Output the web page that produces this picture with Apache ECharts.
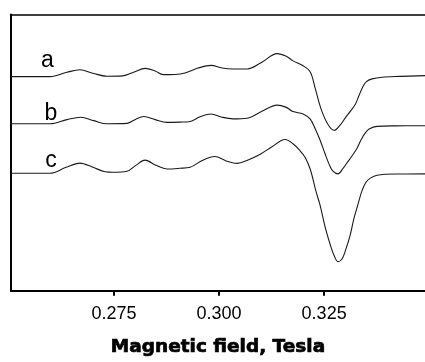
<!DOCTYPE html>
<html>
<head>
<meta charset="utf-8">
<script src="https://cdn.jsdelivr.net/npm/echarts@6/dist/echarts.min.js"></script>
<style>html,body{margin:0;padding:0;background:#fff}#chart{width:425px;height:362px}</style>
</head>
<body>
<div id="chart"></div>
<script>
// Magnetic field (Tesla) and signal (arbitrary units, traces offset as in figure)
var fieldA = [0.2505,0.2598,0.2638,0.2669,0.2700,0.2733,0.2771,0.2798,0.2824,0.2848,0.2867,0.2895,0.2919,0.2950,0.2981,0.3007,0.3033,0.3067,0.3102,0.3138,0.3160,0.3176,0.3200,0.3217,0.3229,0.3243,0.3260,0.3274,0.3288,0.3300,0.3314,0.3324,0.3333,0.3341,0.3350,0.3364,0.3388,0.3431,0.3490];
var signalA = [217.8,217.8,222.2,224.8,221.2,218.2,218.5,222.5,226.2,223.5,219.8,220,221.5,226.5,229.2,226.5,225.5,225.5,232.5,241.2,238.5,233.8,228.8,222.5,205.5,184.5,168.5,163.2,168.5,175.5,183.5,189.5,198.5,206.5,212.5,215.5,217.2,218,218.8];

var fieldB = [0.2505,0.2598,0.2638,0.2671,0.2702,0.2733,0.2781,0.2802,0.2821,0.2848,0.2876,0.2907,0.2931,0.2955,0.2981,0.3007,0.3033,0.3067,0.3102,0.3138,0.3160,0.3176,0.3200,0.3217,0.3229,0.3240,0.3252,0.3262,0.3271,0.3283,0.3295,0.3307,0.3317,0.3329,0.3338,0.3348,0.3357,0.3376,0.3419,0.3490];
var signalB = [169.8,169.8,174,176.5,173,169.8,170.2,174.5,177.2,174,171.2,171.5,172.2,177,179.8,176.5,174.8,175.5,182.5,188.8,186.5,182.2,179.8,174.5,164.5,153.5,139.5,128.5,121.5,118.8,124.5,131.5,137.5,145.5,153.5,160.5,164.5,167.2,167.7,167.8];

var fieldC = [0.2505,0.2598,0.2636,0.2669,0.2700,0.2729,0.2748,0.2781,0.2802,0.2824,0.2850,0.2876,0.2907,0.2931,0.2960,0.2990,0.3017,0.3043,0.3069,0.3098,0.3126,0.3157,0.3176,0.3193,0.3205,0.3217,0.3231,0.3240,0.3252,0.3264,0.3274,0.3283,0.3293,0.3302,0.3312,0.3321,0.3331,0.3340,0.3350,0.3360,0.3376,0.3419,0.3490];
var signalC = [119.5,119.5,125.5,129.8,125.5,121,120.5,121.5,127.5,132.8,127.5,123.8,124.5,125.5,132.5,136.5,132,129.5,133,138.8,146.5,153.8,149.5,142.2,135.5,123.5,100.5,87.5,65.5,47.5,35.5,29.5,32.5,42.5,56.5,73.5,88.5,101.5,110.5,114.5,117.5,118.7,118.8];

var tickValues = [0.275, 0.300, 0.325];
var traceNames = ['a', 'b', 'c'];
var axisTitle = 'Magnetic field, Tesla';

function pairs(xs, ys) { return xs.map(function (x, i) { return [x, ys[i]]; }); }

var chart = echarts.init(document.getElementById('chart'), null, {renderer: 'canvas'});
var lineStyle = {color: '#1a1a1a', width: 1.1};
var traces = [pairs(fieldA, signalA), pairs(fieldB, signalB), pairs(fieldC, signalC)];
var letterFont = '23px "Liberation Sans", Arial, sans-serif';

chart.setOption({
  animation: false,
  backgroundColor: '#fff',
  grid: {left: 11, right: 0, top: 14.5, bottom: 66.5, containLabel: false},
  xAxis: [{
    type: 'value', min: 0.2505, max: 0.349,
    axisLine: {show: true, lineStyle: {color: '#000', width: 2}},
    axisTick: {show: true, customValues: tickValues, length: 5, lineStyle: {color: '#000', width: 2}},
    axisLabel: {show: true, customValues: tickValues, margin: 14, color: '#000', fontSize: 18,
      fontFamily: 'Liberation Sans, Arial, sans-serif',
      formatter: function (v) { return v.toFixed(3); }},
    splitLine: {show: false},
    name: axisTitle, nameLocation: 'middle', nameGap: 47,
    nameTextStyle: {color: '#000', fontSize: 18.5, fontWeight: 'bold', fontFamily: 'DejaVu Sans, sans-serif',
      textBorderColor: '#000', textBorderWidth: 0.7}
  }, {
    type: 'value', min: 0.2505, max: 0.349, position: 'top',
    axisLine: {show: true, lineStyle: {color: '#000', width: 1.5}},
    axisTick: {show: false}, axisLabel: {show: false}, splitLine: {show: false}
  }],
  yAxis: {
    type: 'value', min: 0, max: 281,
    axisLine: {show: true, lineStyle: {color: '#000', width: 2}},
    axisTick: {show: false}, axisLabel: {show: false}, splitLine: {show: false}
  },
  series: traces.map(function (d, i) {
    return {type: 'line', name: traceNames[i], data: d, smooth: 0.35, symbol: 'none',
      lineStyle: lineStyle, xAxisIndex: 0};
  }),
  graphic: [
    {type: 'text', x: 47.5, y: 61, style: {text: traceNames[0], fill: '#000', font: letterFont, align: 'center', verticalAlign: 'middle'}},
    {type: 'text', x: 51, y: 114, style: {text: traceNames[1], fill: '#000', font: letterFont, align: 'center', verticalAlign: 'middle'}},
    {type: 'text', x: 51, y: 161, style: {text: traceNames[2], fill: '#000', font: letterFont, align: 'center', verticalAlign: 'middle'}}
  ]
});
</script>
</body>
</html>
